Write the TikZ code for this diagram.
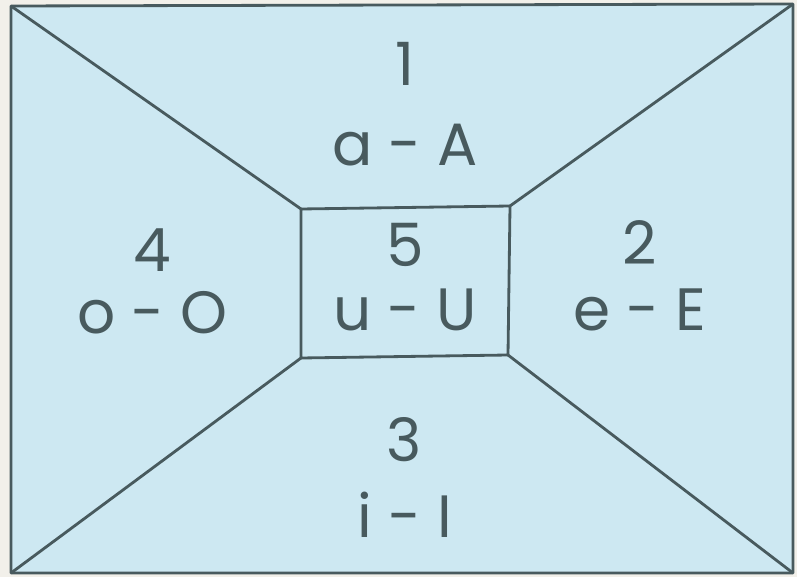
\documentclass[tikz,border=0pt]{standalone}
\usepackage{fontspec}
\setmainfont{Poppins}
\definecolor{paper}{HTML}{F2F0EA}
\definecolor{panel}{HTML}{CDE8F2}
\definecolor{ink}{HTML}{485A5E}
\tikzset{
  frame/.style={draw=ink, line width=1.6pt, line join=round},
  vowel/.style={text=ink, font=\fontsize{34}{38}\selectfont, inner sep=0pt},
}
\begin{document}
\begin{tikzpicture}[x=0.02cm, y=-0.02cm]
    \useasboundingbox[fill=paper] (0,0) rectangle (797,577);
    % Outer Frame
    \coordinate (tl) at (11,6);
    \coordinate (tr) at (793,4);
    \coordinate (br) at (793,573);
    \coordinate (bl) at (11,573);
    \filldraw[frame, fill=panel] (tl) -- (tr) -- (br) -- (bl) -- cycle;
    % Middle Box
    \coordinate (itl) at (301,209);
    \coordinate (itr) at (510,206);
    \coordinate (ibr) at (508,355);
    \coordinate (ibl) at (301,358);
    \draw[frame] (itl) -- (itr) -- (ibr) -- (ibl) -- cycle;
    % Diagonals
    \draw[frame] (tl) -- (itl);
    \draw[frame] (tr) -- (itr);
    \draw[frame] (br) -- (ibr);
    \draw[frame] (bl) -- (ibl);
    % Numbers and Vowels
    \node[vowel] (n1) at (405,64) {1};
    \node[vowel] (v1) at (405,145) {a - A};
    \node[vowel] (n2) at (640,243) {2};
    \node[vowel] (v2) at (640,310) {e - E};
    \node[vowel] (n3) at (404,440) {3};
    \node[vowel] (v3) at (405,515) {i - I};
    \node[vowel] (n4) at (152,250) {4};
    \node[vowel] (v4) at (152,313) {o - O};
    \node[vowel] (n5) at (405,245) {5};
    \node[vowel] (v5) at (405,310) {u - U};
\end{tikzpicture}
\end{document}
